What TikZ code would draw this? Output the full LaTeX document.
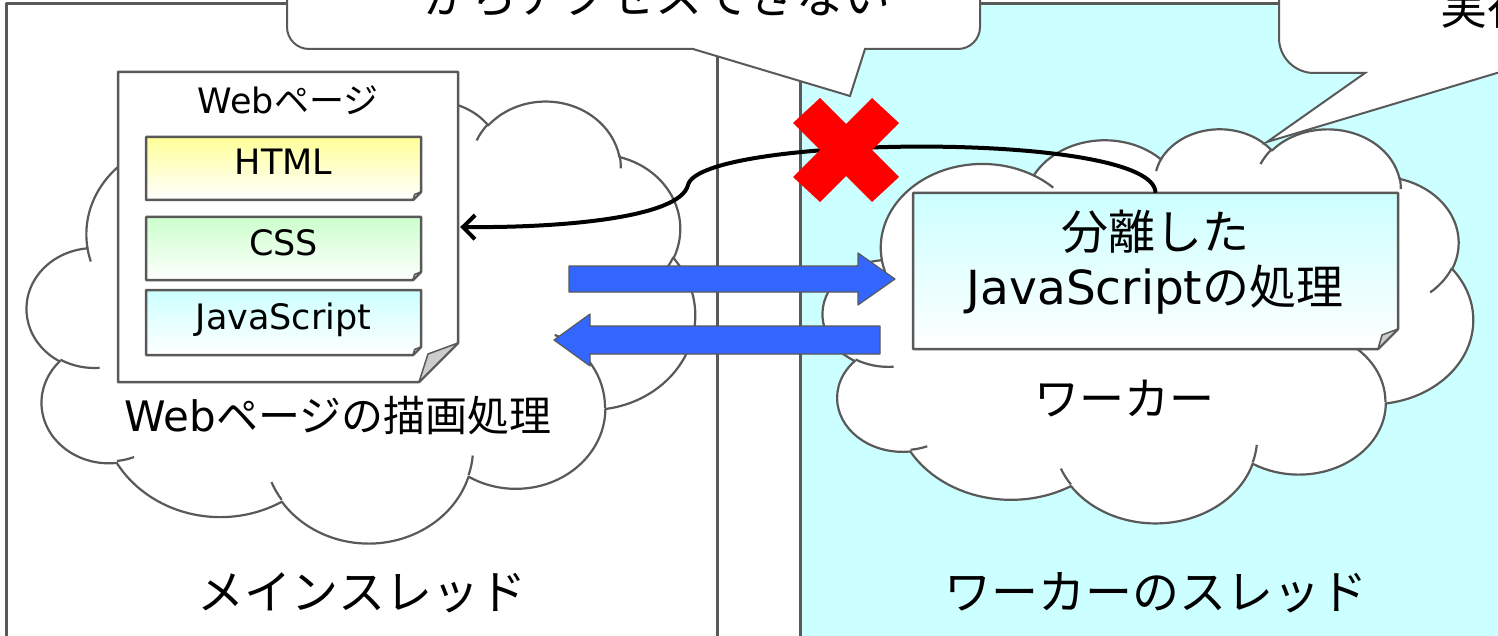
\documentclass[tikz,border=0pt]{standalone}
\usepackage{fontspec}
\setmainfont{DejaVu Sans}
\newfontfamily\jp{Noto Sans CJK JP}
\usetikzlibrary{arrows.meta}
\definecolor{edge}{RGB}{89,89,89}
\definecolor{panelcyan}{RGB}{204,255,255}
\definecolor{arrowblue}{RGB}{51,102,255}
\definecolor{foldgray}{RGB}{204,204,204}
\definecolor{htmlyellow}{RGB}{255,255,153}
\definecolor{cssgreen}{RGB}{204,255,204}
\definecolor{xred}{RGB}{255,0,0}
\newcommand\myfs[2]{\fontsize{#1}{#2}\selectfont}
% convert OOXML (geometric) arc angles to parametric TikZ angles
\newcommand\ooconv[5]{%
  \pgfmathsetmacro\ooS{atan2((#2)*sin(#4),(#3)*cos(#4))}%
  \pgfmathsetmacro\ooE{atan2((#2)*sin((#4)+(#5)),(#3)*cos((#4)+(#5)))}%
  \pgfmathsetmacro\ooE{\ooE<\ooS ? \ooE+360 : \ooE}%
  \expandafter\global\expandafter\let\csname oo#1s\endcsname\ooS
  \expandafter\global\expandafter\let\csname oo#1e\endcsname\ooE
}
\ooconv{A}{675.3}{919.0}{-190.4875}{123.7805}
\ooconv{B}{533.3}{726.7}{-144.1024}{89.9452}
\ooconv{C}{436.5}{594.5}{-145.8079}{99.7230}
\ooconv{D}{485.7}{659.5}{-130.9861}{117.2417}
\ooconv{E}{533.3}{727.3}{-78.7089}{109.0269}
\ooconv{F}{677.5}{922.0}{-46.2673}{130.2690}
\ooconv{G}{578.5}{786.7}{0.6250}{114.0333}
\ooconv{H}{675.2}{921.5}{22.4516}{115.1726}
\ooconv{I}{772.0}{1054.3}{66.2426}{75.7110}
\ooconv{J}{436.0}{591.8}{-274.9421}{146.7356}
\ooconv{K}{434.5}{594.5}{-246.8285}{152.5189}
\ooconv{a}{434.5}{594.5}{86.7420}{26.4295}
\ooconv{b}{436.0}{591.8}{73.6105}{11.4475}
\ooconv{c}{675.2}{921.5}{137.6242}{14.0811}
\ooconv{d}{675.2}{921.5}{6.4533}{15.9984}
\ooconv{e}{578.5}{786.7}{-70.2862}{70.9238}
\ooconv{f}{533.3}{727.3}{30.3180}{27.7515}
\ooconv{g}{485.7}{659.5}{-13.7443}{14.8589}
\ooconv{h}{485.7}{659.5}{-149.1815}{18.1954}
\ooconv{i}{436.5}{594.5}{-163.4943}{17.6864}
\ooconv{j}{675.3}{919.0}{-66.7070}{12.3194}
\ooconv{k}{675.3}{919.0}{157.6544}{11.8582}
\newcommand\cloudshape{%
  \path[cloudsty] (390,1437)
    arc[start angle=\ooAs,end angle=\ooAe,x radius=675.3,y radius=919]
    arc[start angle=\ooBs,end angle=\ooBe,x radius=533.3,y radius=726.7]
    arc[start angle=\ooCs,end angle=\ooCe,x radius=436.5,y radius=594.5]
    arc[start angle=\ooDs,end angle=\ooDe,x radius=485.7,y radius=659.5]
    arc[start angle=\ooEs,end angle=\ooEe,x radius=533.3,y radius=727.3]
    arc[start angle=\ooFs,end angle=\ooFe,x radius=677.5,y radius=922]
    arc[start angle=\ooGs,end angle=\ooGe,x radius=578.5,y radius=786.7]
    arc[start angle=\ooHs,end angle=\ooHe,x radius=675.2,y radius=921.5]
    arc[start angle=\ooIs,end angle=\ooIe,x radius=772,y radius=1054.3]
    arc[start angle=\ooJs,end angle=\ooJe,x radius=436,y radius=591.8]
    arc[start angle=\ooKs,end angle=\ooKe,x radius=434.5,y radius=594.5]
    -- cycle;
  \path[cloudline]
    (469.3,2617.7) arc[start angle=\ooas,end angle=\ooae,x radius=434.5,y radius=594.5]
    (692.8,3489.9) arc[start angle=\oobs,end angle=\oobe,x radius=436,y radius=591.8]
    (1647.8,3909) arc[start angle=\oocs,end angle=\ooce,x radius=675.2,y radius=921.5]
    (2882.7,3475.1) arc[start angle=\oods,end angle=\oode,x radius=675.2,y radius=921.5]
    (3412.9,2295.4) arc[start angle=\ooes,end angle=\ooee,x radius=578.5,y radius=786.7]
    (4179.8,1535.4) arc[start angle=\oofs,end angle=\oofe,x radius=533.3,y radius=727.3]
    (3832.4,542.6) arc[start angle=\oogs,end angle=\ooge,x radius=485.7,y radius=659.5]
    (2907.8,395.2) arc[start angle=\oohs,end angle=\oohe,x radius=485.7,y radius=659.5]
    (2214.1,472) arc[start angle=\oois,end angle=\ooie,x radius=436.5,y radius=594.5]
    (1400,519.2) arc[start angle=\oojs,end angle=\ooje,x radius=675.3,y radius=919]
    (412.7,1578.9) arc[start angle=\ooks,end angle=\ooke,x radius=675.3,y radius=919];
}
% folded-corner box: l t r b fold topcolor
\newcommand\foldbox[6]{%
  \path[top color=#6, bottom color=white, draw=edge, line width=2.5pt]
    (#1,#2) -- (#3,#2) -- (#3,#4-#5) -- (#3-#5,#4) -- (#1,#4) -- cycle;
  \path[fill=foldgray, draw=edge, line width=1.5pt]
    (#3,#4-#5) -- (#3-0.8*#5,#4-0.7*#5) -- (#3-#5,#4) -- cycle;
}
\tikzset{
  panel/.style={draw=edge, line width=3pt},
  cloudsty/.style={draw=edge, line width=2.2pt, fill=white},
  cloudline/.style={draw=edge, line width=2.2pt},
  callout/.style={draw=edge, line width=2pt, fill=white, line join=miter},
  blockarrow/.style={draw=edge, line width=1.2pt, fill=arrowblue},
  conn/.style={draw=black, line width=4pt, -{Straight Barb[length=12pt,width=24pt]}},
  boxlabel/.style={inner sep=0pt, minimum width=275pt, text height=38pt, text depth=25pt, font=\myfs{35}{35}},
  plainlabel/.style={inner sep=0pt}
}
\begin{document}
\begin{tikzpicture}[x=1pt,y=-1pt,line join=round]
\useasboundingbox (0,0) rectangle (1498,636);
\fill[white] (0,0) rectangle (1498,636);
% panels
\draw[panel, fill=white] (6,4) rectangle (717,700);
\draw[panel, fill=panelcyan] (800,4) rectangle (1600,700);
% clouds
\begin{scope}[shift={(27,100)}, xscale=0.15463, yscale=0.10231]
  \cloudshape
\end{scope}
\begin{scope}[shift={(823,128)}, xscale=0.15046, yscale=0.09120]
  \cloudshape
\end{scope}
% web page document
\path[fill=white, draw=edge, line width=2.5pt]
  (118,72) -- (458,72) -- (458,343) -- (419,382) -- (118,382) -- cycle;
\path[fill=foldgray, draw=edge, line width=1.5pt]
  (458,343) -- (428,354) -- (419,382) -- cycle;
\node[inner sep=0pt, minimum width=340pt, minimum height=310pt] (doc) at (288,227) {};
\node[plainlabel, font=\myfs{35}{35}] (doctitle) at (288,100) {Web{\jp ページ}};
\foldbox{146}{137}{421}{200}{8}{htmlyellow}
\foldbox{146}{217}{421}{280}{8}{cssgreen}
\foldbox{146}{290}{421}{355}{8}{panelcyan}
\node[boxlabel] (html) at (283.5,168.5) {HTML};
\node[boxlabel] (css) at (283.5,248.5) {CSS};
\node[boxlabel] (js) at (283.5,322.5) {JavaScript};
% worker box
\foldbox{913}{193}{1398}{349}{20}{panelcyan}
\node[inner sep=0pt, minimum width=485pt, minimum height=156pt] (wbox) at (1155.5,271) {};
\node[plainlabel, align=center, font=\myfs{47}{55}] (wtext) at (1155,262) {{\jp 分離した}\\JavaScript{\jp の処理}};
% labels
\node[plainlabel, font=\myfs{42}{42}] (drawproc) at (338,416) {Web{\jp ページの描画処理}};
\node[plainlabel, font=\myfs{47}{47}] (mainthread) at (362,593) {\jp メインスレッド};
\node[plainlabel, font=\myfs{45}{45}] (worker) at (1124,399) {\jp ワーカー};
\node[plainlabel, font=\myfs{47}{47}] (workerthread) at (1156,593) {\jp ワーカーのスレッド};
% block arrows
\path[blockarrow] (569,266) -- (858,266) -- (858,253) -- (895,279) -- (858,305) -- (858,292) -- (569,292) -- cycle;
\path[blockarrow] (880,326) -- (590,326) -- (590,314) -- (554,340) -- (590,366) -- (590,354) -- (880,354) -- cycle;
% connector
\draw[conn] (wbox.north) .. controls (1155,130) and (700,135) .. (688,185)
  .. controls (680,218) and (560,228) .. ([xshift=2pt]doc.east);
% red cross
\fill[xred] (793,123) -- (820,98) -- (846,124) -- (872,98) -- (899,123) -- (872,150)
  -- (899,177) -- (872,202) -- (846,176) -- (820,202) -- (793,177) -- (820,150) -- cycle;
% callouts
\path[callout] (287,-60) -- (287,27) .. controls (287,39.1) and (296.9,49) .. (309,49)
  -- (693,49) -- (850,96) -- (865,49) -- (958,49) .. controls (970.1,49) and (980,39.1) .. (980,27)
  -- (980,-60) -- cycle;
\node[plainlabel, font=\myfs{47}{47}, anchor=base] (calloutA) at (657,14) {\jp からアクセスできない};
\path[callout] (1279,-60) -- (1279,38) .. controls (1279,57.3) and (1294.7,73) .. (1314,73)
  -- (1365,73) -- (1267,142) -- (1497,73) -- (1600,73) -- (1600,-60) -- cycle;
\node[plainlabel, font=\myfs{47}{47}, anchor=base west] (calloutB) at (1440,25) {\jp 実行};
\end{tikzpicture}
\end{document}
